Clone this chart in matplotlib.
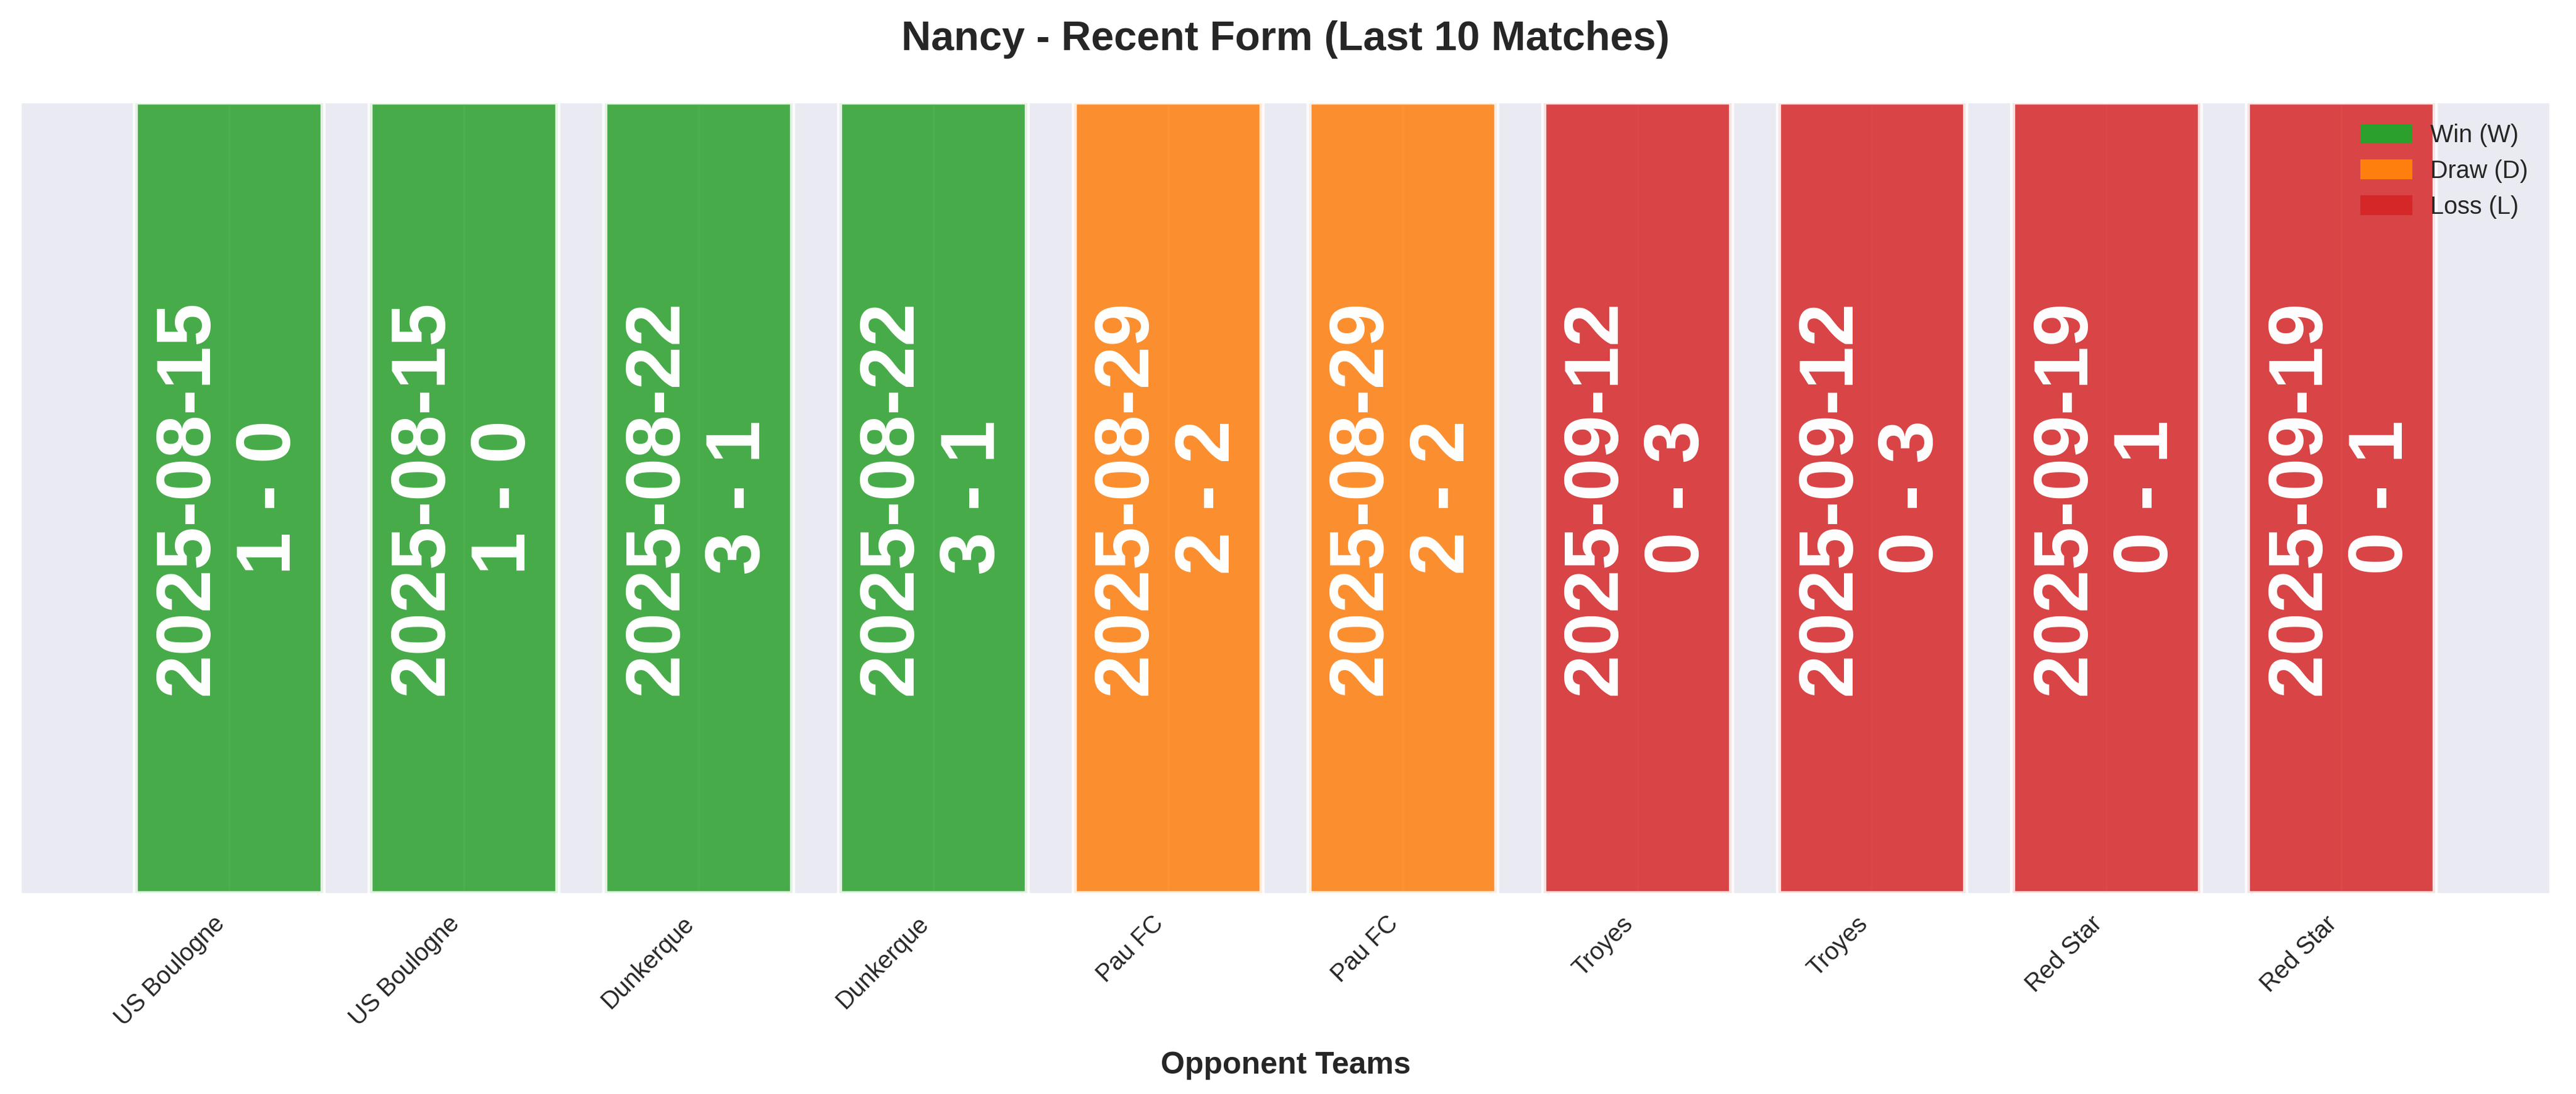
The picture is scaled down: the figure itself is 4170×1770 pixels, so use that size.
import matplotlib.pyplot as plt
import seaborn as sns

sns.set_style('darkgrid')
plt.rcParams['font.family'] = ['Liberation Sans', 'DejaVu Sans']

# Datos de los ultimos 10 partidos
rivales = ['US Boulogne', 'US Boulogne', 'Dunkerque', 'Dunkerque', 'Pau FC',
           'Pau FC', 'Troyes', 'Troyes', 'Red Star', 'Red Star']
fechas = ['2025-08-15', '2025-08-15', '2025-08-22', '2025-08-22', '2025-08-29',
          '2025-08-29', '2025-09-12', '2025-09-12', '2025-09-19', '2025-09-19']
marcadores = ['1 - 0', '1 - 0', '3 - 1', '3 - 1', '2 - 2',
              '2 - 2', '0 - 3', '0 - 3', '0 - 1', '0 - 1']
resultados = ['W', 'W', 'W', 'W', 'D', 'D', 'L', 'L', 'L', 'L']

colores_res = {'W': '#2ca02c', 'D': '#ff7f0e', 'L': '#d62728'}
nombres_res = {'W': 'Win (W)', 'D': 'Draw (D)', 'L': 'Loss (L)'}

fig, ax = plt.subplots(figsize=(13.9, 5.9))
x = list(range(len(rivales)))
colores = [colores_res[r] for r in resultados]
ax.bar(x, [1] * len(x), color=colores, alpha=0.85, edgecolor='white', linewidth=2)

for i in x:
    ax.text(i, 0.5, f'{fechas[i]}\n{marcadores[i]}', rotation=90, ha='center', va='center',
            color='white', fontsize=30, fontweight='bold')

ax.set_ylim(0, 1)
ax.set_yticks([])
ax.set_xticks(x)
ax.set_xticklabels(rivales, rotation=45, ha='right', fontsize=9.5)
ax.set_xlabel('Opponent Teams', fontsize=12, fontweight='bold', labelpad=8)
ax.set_title('Nancy - Recent Form (Last 10 Matches)', fontsize=16, fontweight='bold', pad=20)

handles = [plt.Rectangle((0, 0), 1, 1, color=colores_res[k]) for k in ['W', 'D', 'L']]
ax.legend(handles, [nombres_res[k] for k in ['W', 'D', 'L']], loc='upper right', fontsize=9.5,
          frameon=False)

plt.subplots_adjust(left=0.008, right=0.99, top=0.907, bottom=0.183)
plt.savefig('out.png', dpi=300)
